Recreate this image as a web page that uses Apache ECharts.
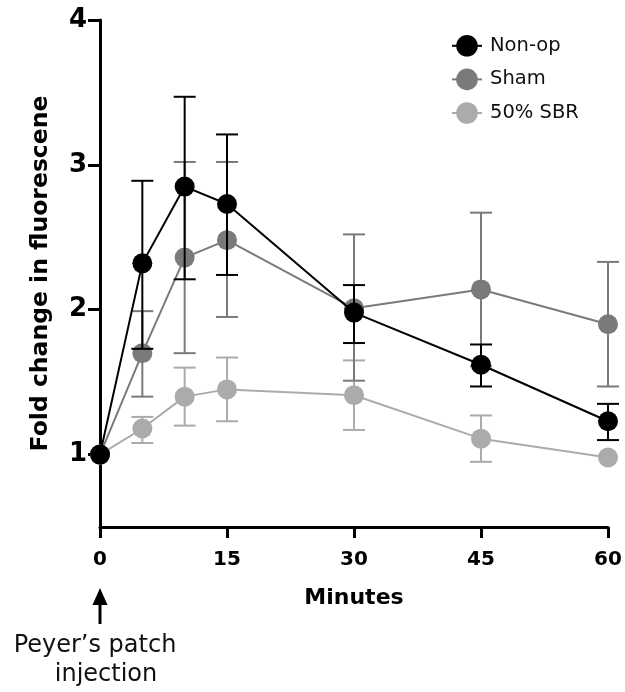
<!DOCTYPE html>
<html>
<head>
<meta charset="utf-8">
<script src="https://cdn.jsdelivr.net/npm/echarts@6/dist/echarts.min.js"></script>
<style>
html,body{margin:0;padding:0;background:#fff;}
#main{width:625px;height:692px;}
</style>
</head>
<body>
<div id="main"></div>
<script>
const minutes = [0, 5, 10, 15, 30, 45, 60];
const xTicks = [0, 15, 30, 45, 60];
const yTicks = [1, 2, 3, 4];
const seriesNames = ['Non-op', 'Sham', '50% SBR'];

const nonOp   = [1, 2.32, 2.85, 2.73, 1.98, 1.62, 1.23];
const nonOpHi = [null, 2.89, 3.47, 3.21, 2.17, 1.76, 1.35];
const nonOpLo = [null, 1.73, 2.21, 2.24, 1.77, 1.47, 1.10];

const sham   = [1, 1.70, 2.36, 2.48, 2.01, 2.14, 1.90];
const shamHi = [null, 1.99, 3.02, 3.02, 2.52, 2.67, 2.33];
const shamLo = [null, 1.40, 1.70, 1.95, 1.51, 1.61, 1.47];

const sbr   = [1, 1.18, 1.40, 1.45, 1.41, 1.11, 0.98];
const sbrHi = [null, 1.26, 1.60, 1.67, 1.65, 1.27, null];
const sbrLo = [null, 1.08, 1.20, 1.23, 1.17, 0.95, null];

const colors = ['#000000', '#7a7a7a', '#ababab'];
const FONT = '"DejaVu Sans", Verdana, sans-serif';

function pts(vals) { return minutes.map((m, i) => [m, vals[i]]); }
function errPts(lo, hi) {
  const out = [];
  minutes.forEach((m, i) => { if (lo[i] != null && hi[i] != null) out.push([m, lo[i], hi[i]]); });
  return out;
}
function errSeries(lo, hi, color, z) {
  return {
    type: 'custom',
    z: z,
    silent: true,
    data: errPts(lo, hi),
    encode: { x: 0, y: [1, 2] },
    renderItem: function (params, api) {
      const x = api.value(0);
      const a = api.coord([x, api.value(1)]);
      const b = api.coord([x, api.value(2)]);
      const hw = 11;
      const st = { stroke: color, lineWidth: 2 };
      return {
        type: 'group',
        children: [
          { type: 'line', shape: { x1: a[0], y1: a[1], x2: b[0], y2: b[1] }, style: st },
          { type: 'line', shape: { x1: a[0] - hw, y1: a[1], x2: a[0] + hw, y2: a[1] }, style: st },
          { type: 'line', shape: { x1: b[0] - hw, y1: b[1], x2: b[0] + hw, y2: b[1] }, style: st }
        ]
      };
    }
  };
}
function lineSeries(name, vals, color, z) {
  return {
    name: name,
    type: 'line',
    z: z,
    data: pts(vals),
    symbol: 'circle',
    symbolSize: 20,
    itemStyle: { color: color },
    lineStyle: { color: color, width: 2 },
    emphasis: { disabled: true }
  };
}

const chart = echarts.init(document.getElementById('main'), null, { renderer: 'canvas' });
chart.setOption({
  animation: false,
  backgroundColor: '#fff',
  textStyle: { fontFamily: FONT },
  grid: { left: 100, right: 17, top: 20, bottom: 165, containLabel: false },
  legend: {
    data: seriesNames,
    orient: 'vertical',
    left: 446,
    top: 30,
    itemWidth: 30,
    itemHeight: 27,
    itemGap: 12,
    textStyle: { fontFamily: FONT, fontSize: 19.5, color: '#111', padding: [0, 0, 0, 3] }
  },
  xAxis: {
    type: 'value',
    min: 0, max: 60, interval: 15,
    name: 'Minutes',
    nameLocation: 'middle',
    nameGap: 60,
    nameTextStyle: { fontFamily: FONT, fontSize: 22, fontWeight: 'bold', color: '#000' },
    splitLine: { show: false },
    axisLine: { lineStyle: { color: '#000', width: 3 } },
    axisTick: { length: 11, lineStyle: { color: '#000', width: 3 }, customValues: xTicks },
    axisLabel: { fontFamily: FONT, fontSize: 20, fontWeight: 'bold', color: '#000', margin: 23, customValues: xTicks }
  },
  yAxis: {
    type: 'value',
    min: 0.5, max: 4,
    name: 'Fold change in fluorescene',
    nameLocation: 'middle',
    nameGap: 47,
    nameRotate: 90,
    nameTextStyle: { fontFamily: FONT, fontSize: 23.5, fontWeight: 'bold', color: '#000' },
    splitLine: { show: false },
    axisLine: { show: true, lineStyle: { color: '#000', width: 3 } },
    axisTick: { show: true, length: 12, lineStyle: { color: '#000', width: 3 }, customValues: yTicks },
    axisLabel: { fontFamily: FONT, fontSize: 26, fontWeight: 'bold', color: '#000', margin: 13, padding: [3, 0, 0, 0], customValues: yTicks }
  },
  series: [
    errSeries(sbrLo, sbrHi, colors[2], 1),
    lineSeries(seriesNames[2], sbr, colors[2], 2),
    errSeries(shamLo, shamHi, colors[1], 3),
    lineSeries(seriesNames[1], sham, colors[1], 4),
    errSeries(nonOpLo, nonOpHi, colors[0], 5),
    lineSeries(seriesNames[0], nonOp, colors[0], 6)
  ]
});

const x0 = chart.convertToPixel({ xAxisIndex: 0 }, 0);
chart.setOption({
  graphic: [
    { type: 'line', shape: { x1: x0, y1: 624, x2: x0, y2: 600 }, style: { stroke: '#000', lineWidth: 3 } },
    { type: 'polygon', shape: { points: [[x0, 588], [x0 - 7.5, 605], [x0 + 7.5, 605]] }, style: { fill: '#000' } },
    { type: 'text', x: x0 - 5, y: 646, style: { text: 'Peyer\u2019s patch', font: '24px ' + FONT, fill: '#111', align: 'center', verticalAlign: 'middle' } },
    { type: 'text', x: x0 + 6, y: 675, style: { text: 'injection', font: '24px ' + FONT, fill: '#111', align: 'center', verticalAlign: 'middle' } }
  ]
});
</script>
</body>
</html>
